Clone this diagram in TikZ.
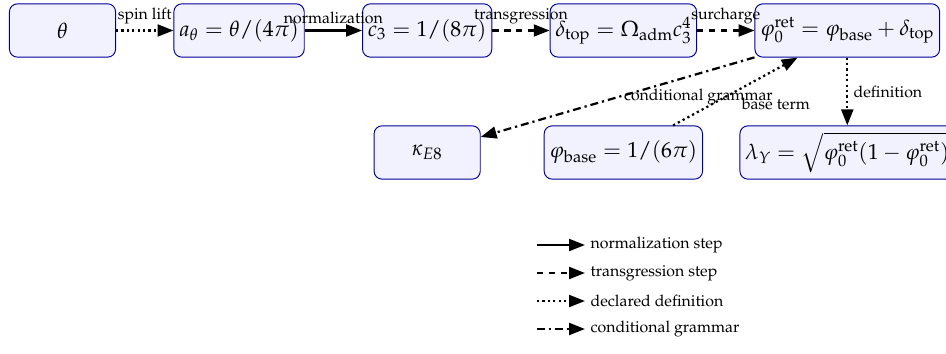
\documentclass[tikz,border=0pt]{standalone}
\usepackage[T1]{fontenc}
\usepackage{mathpazo}
\usetikzlibrary{positioning,arrows.meta}

\tikzset{
  stage/.style={rectangle, rounded corners=5pt, draw=blue!60!black, fill=blue!5,
    line width=0.6pt, minimum width=2.35cm, minimum height=1.18cm,
    font=\fontsize{13.7}{16.5}\selectfont},
  flow/.style={-{Triangle[length=10pt,width=7.5pt]}, line width=1.4pt},
  normstep/.style={flow},
  transstep/.style={flow, dash pattern=on 4pt off 3.5pt},
  defstep/.style={flow, dotted},
  condstep/.style={flow, dash pattern=on 5pt off 2.5pt on \pgflinewidth off 2.5pt},
}

\begin{document}
\begin{tikzpicture}[node distance=1.5cm and 1.27cm]

  \useasboundingbox (-1.384,0.675) rectangle (19.56,-7.162);

  % Main chain
  % ==========

  \node[stage] (theta) {$\theta$};
  \node[stage, right=of theta] (atheta) {$a_\theta = \theta/(4\pi)$};
  \node[stage, right=of atheta] (cthree) {$c_3 = 1/(8\pi)$};
  \node[stage, right=of cthree] (dtop) {$\delta_{\mathrm{top}} = \Omega_{\mathrm{adm}} c_3^4$};
  \node[stage, right=of dtop] (phiret) {$\varphi_0^{\mathrm{ret}} = \varphi_{\mathrm{base}} + \delta_{\mathrm{top}}$};

  % Second row
  % ==========

  \node[stage, below=of cthree] (kappa) {$\kappa_{E8}$};
  \node[stage, below=of dtop] (phibase) {$\varphi_{\mathrm{base}} = 1/(6\pi)$};
  \node[stage, below=of phiret] (lambda) {$\lambda_Y = \sqrt{\varphi_0^{\mathrm{ret}}(1-\varphi_0^{\mathrm{ret}})}$};

  % Steps
  % =====

  \draw[defstep] (theta) -- node[above] {spin lift} (atheta);
  \draw[normstep] (atheta) -- node[above] {normalization} (cthree);
  \draw[transstep] (cthree) -- node[above] {transgression} (dtop);
  \draw[transstep] (dtop) -- node[above] {surcharge} (phiret);
  \draw[condstep] (phiret) -- node[midway, right] {conditional grammar} (kappa);
  \draw[defstep] (phibase) -- node[midway, below right] {base term} (phiret);
  \draw[defstep] (phiret) -- node[midway, right] {definition} (lambda);

  % Legend
  % ======

  \foreach \sty/\txt [count=\i] in {normstep/normalization step,
    transstep/transgression step, defstep/declared definition,
    condstep/conditional grammar}{
    \coordinate (lega\i) at (10.505, {-4.749-0.62*(\i-1)});
    \coordinate (legb\i) at (11.568, {-4.749-0.62*(\i-1)});
    \draw[\sty] (lega\i) -- (legb\i);
    \node[right] (legt\i) at (legb\i) {\txt};
  }

\end{tikzpicture}
\end{document}
